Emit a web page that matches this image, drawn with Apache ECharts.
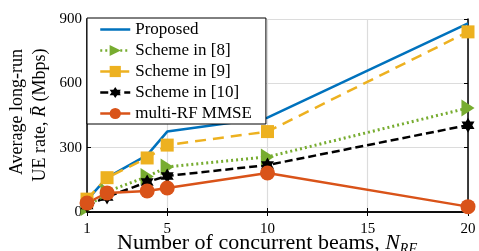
<!DOCTYPE html>
<html>
<head>
<meta charset="utf-8">
<script src="https://cdn.jsdelivr.net/npm/echarts@6/dist/echarts.min.js"></script>
<style>
  html, body { margin: 0; padding: 0; background: #fff; }
  #chart { width: 479px; height: 251px; }
</style>
</head>
<body>
<div id="chart"></div>
<script>
// number of concurrent beams
const beams = [1, 2, 4, 5, 10, 20];
// average long-run UE rate (Mbps)
const proposed = [55, 160, 265, 375, 440, 880];
const scheme8 = [20, 95, 165, 210, 257, 485];
const scheme9 = [60, 160, 252, 312, 375, 840];
const scheme10 = [30, 70, 140, 168, 219, 405];
const mmse = [42, 89, 98, 112, 182, 25];
const xTicks = [1, 5, 10, 15, 20];

const serif = "Liberation Serif";
const hexagram = "path://M0 -100 L28.9 -50 L86.6 -50 L57.7 0 L86.6 50 L28.9 50 L0 100 L-28.9 50 L-86.6 50 L-57.7 0 L-86.6 -50 L-28.9 -50 Z";
const triRight = "path://M0 0 L100 57 L0 114 Z";

function pairs(ys) {
  return beams.map((b, i) => [b, ys[i]]);
}

const chart = echarts.init(document.getElementById("chart"), null, { renderer: "canvas" });

const axisBase = {
  axisLine: { show: true, lineStyle: { color: "#000", width: 1.5 } },
  axisTick: { show: true, inside: true, length: 4, lineStyle: { color: "#000", width: 1 } },
};

const option = {
  backgroundColor: "#fff",
  animation: false,
  grid: { left: 87, right: 11, top: 19, bottom: 39 },
  legend: {
    orient: "vertical",
    left: 87,
    top: 18,
    itemWidth: 30,
    itemHeight: 14,
    itemGap: 4,
    padding: [3, 14, 2, 12],
    backgroundColor: "#fff",
    borderColor: "#000",
    borderWidth: 1,
    lineStyle: { width: 2.5 },
    textStyle: { fontFamily: serif, fontSize: 17, color: "#000" },
    data: [
      { name: "Proposed", itemStyle: { opacity: 0 } },
      "Scheme in [8]", "Scheme in [9]", "Scheme in [10]", "multi-RF MMSE",
    ],
  },
  xAxis: [
    Object.assign({}, axisBase, {
      type: "value",
      min: 1,
      max: 20,
      axisTick: { show: true, inside: true, length: 4, customValues: xTicks, lineStyle: { color: "#000" } },
      axisLabel: { customValues: xTicks, fontFamily: serif, fontSize: 15, color: "#000", margin: 10 },
      splitLine: { show: true, lineStyle: { color: "#dcdcdc", width: 1.2 } },
    }),
    Object.assign({}, axisBase, {
      type: "value",
      position: "top",
      min: 1,
      max: 20,
      axisTick: { show: true, inside: true, length: 4, customValues: xTicks, lineStyle: { color: "#000" } },
      axisLabel: { show: false, customValues: xTicks },
      splitLine: { show: false },
    }),
  ],
  yAxis: [
    Object.assign({}, axisBase, {
      type: "value",
      min: 0,
      max: 900,
      interval: 300,
      axisLabel: { fontFamily: serif, fontSize: 15, color: "#000", margin: 5 },
      splitLine: { show: true, lineStyle: { color: "#dcdcdc", width: 1.2 } },
    }),
    Object.assign({}, axisBase, {
      type: "value",
      position: "right",
      min: 0,
      max: 900,
      interval: 300,
      axisLabel: { show: false },
      splitLine: { show: false },
    }),
  ],
  graphic: [
    {
      type: "text",
      x: 17,
      y: 112,
      rotation: Math.PI / 2,
      style: {
        text: "Average long-run",
        font: "18px " + serif,
        fill: "#000",
        align: "center",
        verticalAlign: "middle",
      },
    },
    {
      type: "text",
      x: 40,
      y: 115,
      rotation: Math.PI / 2,
      style: {
        text: "UE rate, {i|R̄} (Mbps)",
        font: "18px " + serif,
        fill: "#000",
        align: "center",
        verticalAlign: "middle",
        rich: { i: { font: "italic 18px " + serif, fill: "#000" } },
      },
    },
    {
      type: "text",
      x: 117,
      y: 243,
      style: {
        text: "Number of concurrent beams, {i|N}{s|RF}",
        font: "22px " + serif,
        fill: "#000",
        align: "left",
        verticalAlign: "middle",
        rich: {
          i: { font: "italic 22px " + serif, fill: "#000" },
          s: { font: "italic 14px " + serif, fill: "#000", padding: [12, 0, 0, 0] },
        },
      },
    },
  ],
  series: [
    {
      name: "Proposed",
      type: "line",
      data: pairs(proposed),
      symbol: "none",
      lineStyle: { color: "#0072BD", width: 2.5 },
      itemStyle: { color: "#0072BD" },
    },
    {
      name: "Scheme in [8]",
      type: "line",
      data: pairs(scheme8),
      symbol: triRight,
      symbolSize: [15, 17],
      symbolKeepAspect: true,
      lineStyle: { color: "#77AC30", width: 3, type: [2, 3] },
      itemStyle: { color: "#77AC30" },
    },
    {
      name: "Scheme in [9]",
      type: "line",
      data: pairs(scheme9),
      symbol: "rect",
      symbolSize: 13,
      lineStyle: { color: "#EDB120", width: 2.5, type: [11, 7] },
      itemStyle: { color: "#EDB120" },
    },
    {
      name: "Scheme in [10]",
      type: "line",
      data: pairs(scheme10),
      symbol: hexagram,
      symbolSize: 15,
      symbolKeepAspect: true,
      lineStyle: { color: "#000", width: 2.5, type: [8, 4] },
      itemStyle: { color: "#000" },
    },
    {
      name: "multi-RF MMSE",
      type: "line",
      data: pairs(mmse),
      symbol: "circle",
      symbolSize: 15,
      lineStyle: { color: "#D95319", width: 2.5 },
      itemStyle: { color: "#D95319" },
    },
  ],
};

chart.setOption(option);
</script>
</body>
</html>
